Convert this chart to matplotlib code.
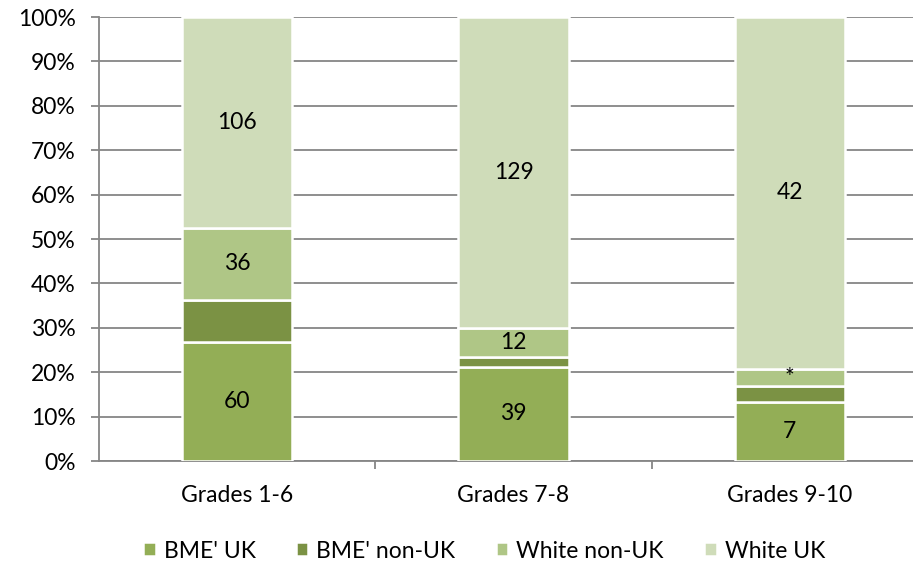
import matplotlib
matplotlib.use("Agg")
import matplotlib.pyplot as plt
from matplotlib.ticker import PercentFormatter
import numpy as np

plt.rcParams['font.family'] = ['Lato', 'DejaVu Sans']

categories = ["Grades 1-6", "Grades 7-8", "Grades 9-10"]
series_names = ["BME' UK", "BME' non-UK", "White non-UK", "White UK"]
bme_uk = [60, 39, 7]
bme_non_uk = [21, 4, 2]
white_non_uk = [36, 12, 2]
white_uk = [106, 129, 42]
labels = [
    ["60", "39", "7"],
    ["", "", ""],
    ["36", "12", "*"],
    ["106", "129", "42"],
]
colors = ["#93AE56", "#7B9244", "#AFC686", "#CFDCB9"]

counts = np.array([bme_uk, bme_non_uk, white_non_uk, white_uk], dtype=float)
shares = counts / counts.sum(axis=0) * 100

FS = 16.5
fig = plt.figure(figsize=(9.13, 5.67), dpi=100)
W, H = 913, 567
ax = fig.add_axes([99 / W, 1 - 461 / H, (928 - 99) / W, (461 - 17) / H])

x = np.arange(len(categories))
bottom = np.zeros(len(categories))
for i, name in enumerate(series_names):
    bars = ax.bar(x, shares[i], 0.4, bottom=bottom, color=colors[i],
                  edgecolor="white", linewidth=1.8, label=name, zorder=3)
    for j, b in enumerate(bars):
        if labels[i][j]:
            ax.text(b.get_x() + b.get_width() / 2, bottom[j] + shares[i][j] / 2,
                    labels[i][j], ha="center", va="center", fontsize=FS,
                    color="black", zorder=4)
    bottom += shares[i]

ax.set_xlim(-0.5, 2.5)
ax.set_ylim(0, 100)
ax.set_yticks(np.arange(0, 101, 10))
ax.yaxis.set_major_formatter(PercentFormatter(decimals=0))
ax.grid(axis="y", color="#868686", linewidth=1.3, zorder=0)
ax.set_axisbelow(True)

ax.set_xticks(x)
ax.set_xticklabels(categories)
ax.set_xticks([0.5, 1.5], minor=True)
ax.tick_params(axis="x", which="major", length=0, pad=17, labelsize=FS)
ax.tick_params(axis="x", which="minor", length=5.5, color="#868686", width=1.3, direction="out")
ax.tick_params(axis="y", length=5.8, color="#868686", width=1.3, labelsize=FS, pad=11)

for s in ["top", "right"]:
    ax.spines[s].set_visible(False)
for s in ["left", "bottom"]:
    ax.spines[s].set_color("#868686")
    ax.spines[s].set_linewidth(1.3)

fig.legend(loc="center", bbox_to_anchor=(484 / W, 1 - 551 / H), ncol=4,
           frameon=False, fontsize=FS, handlelength=0.55, handleheight=0.55,
           handletextpad=0.35, columnspacing=1.75, borderpad=0)

fig.savefig("out.png", dpi=100)
